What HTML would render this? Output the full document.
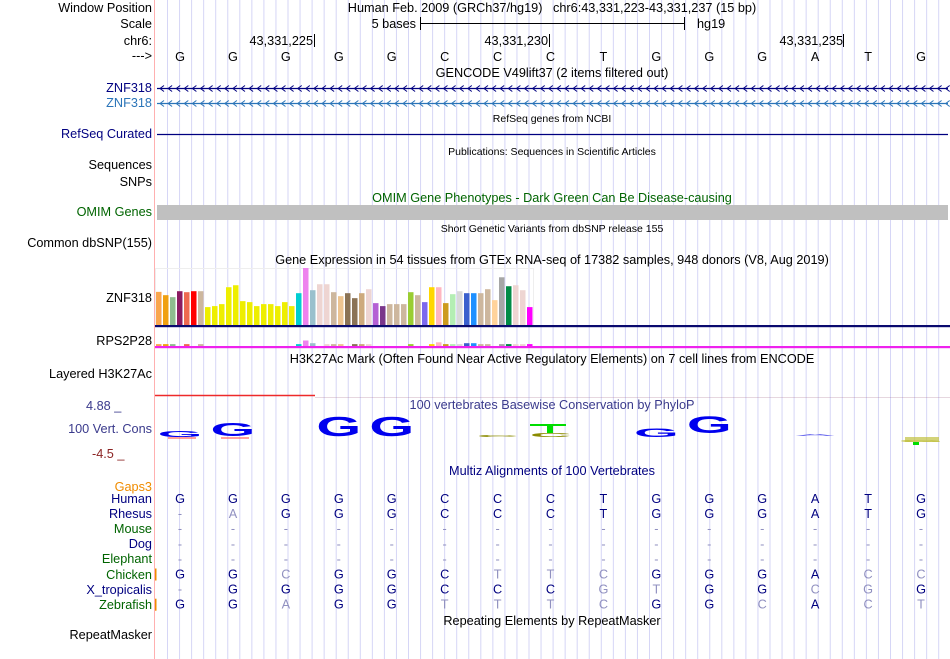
<!DOCTYPE html>
<html><head><meta charset="utf-8">
<style>
body{margin:0;background:#fff;width:950px;height:659px;overflow:hidden;position:relative;font-family:"Liberation Sans",Arial,sans-serif;}
.t{position:absolute;white-space:nowrap;font-size:12.7px;color:#000;line-height:14px}
.l{position:absolute;right:798px;text-align:right;white-space:nowrap;font-size:12.7px;line-height:14px}
.c{position:absolute;white-space:nowrap;font-size:12.7px;line-height:14px;transform:translateX(-50%)}
</style></head><body>
<svg id="grid" width="950" height="659" style="position:absolute;left:0;top:0"></svg>

<div class="l" style="top:1px">Window Position</div>
<div class="c" style="left:552px;top:1px">Human Feb. 2009 (GRCh37/hg19)&nbsp;&nbsp; chr6:43,331,223-43,331,237 (15 bp)</div>
<div class="l" style="top:17px">Scale</div>
<div class="t" style="right:534px;top:17px">5 bases</div>
<div class="t" style="left:697px;top:17px">hg19</div>
<div class="l" style="top:34px">chr6:</div>
<div class="t" style="right:637px;top:34px">43,331,225</div>
<div class="t" style="right:402px;top:34px">43,331,230</div>
<div class="t" style="right:107px;top:34px">43,331,235</div>
<div class="l" style="top:49px">---&gt;</div>
<div class="c" style="left:552px;top:66px">GENCODE V49lift37 (2 items filtered out)</div>
<div class="l" style="top:81px;color:#000080">ZNF318</div>
<div class="l" style="top:96px;color:#2a74b8">ZNF318</div>
<div class="c" style="left:552px;top:112px;font-size:10.5px">RefSeq genes from NCBI</div>
<div class="l" style="top:127px;color:#000080">RefSeq Curated</div>
<div class="c" style="left:552px;top:145px;font-size:10.5px">Publications: Sequences in Scientific Articles</div>
<div class="l" style="top:158px">Sequences</div>
<div class="l" style="top:175px">SNPs</div>
<div class="c" style="left:552px;top:191px;color:#006400">OMIM Gene Phenotypes - Dark Green Can Be Disease-causing</div>
<div class="l" style="top:205px;color:#006400">OMIM Genes</div>
<div class="c" style="left:552px;top:222px;font-size:10.5px">Short Genetic Variants from dbSNP release 155</div>
<div class="l" style="top:236px">Common dbSNP(155)</div>
<div class="c" style="left:552px;top:253px">Gene Expression in 54 tissues from GTEx RNA-seq of 17382 samples, 948 donors (V8, Aug 2019)</div>
<div class="l" style="top:291px">ZNF318</div>
<div class="l" style="top:334px">RPS2P28</div>
<div class="c" style="left:552px;top:352px">H3K27Ac Mark (Often Found Near Active Regulatory Elements) on 7 cell lines from ENCODE</div>
<div class="l" style="top:367px">Layered H3K27Ac</div>
<div class="t" style="left:86px;top:399px;color:#3a3a8c">4.88 _</div>
<div class="c" style="left:552px;top:398px;color:#3a3a8c">100 vertebrates Basewise Conservation by PhyloP</div>
<div class="l" style="top:422px;color:#3a3a8c">100 Vert. Cons</div>
<div class="t" style="left:92px;top:447px;color:#8b2323">-4.5 _</div>
<div class="c" style="left:552px;top:464px;color:#000080">Multiz Alignments of 100 Vertebrates</div>
<div class="l" style="top:480px;color:#f08c00">Gaps3</div>
<div id="species"></div>
<div class="c" style="left:552px;top:614px">Repeating Elements by RepeatMasker</div>
<div class="l" style="top:628px">RepeatMasker</div>

<svg id="main" width="950" height="659" style="position:absolute;left:0;top:0" font-family="Liberation Sans, Arial, sans-serif"></svg>

<script>
const bases=["G","G","G","G","G","C","C","C","T","G","G","G","A","T","G"];
const gtexValues=[100,90,84,102,99,102,102,54,57,63,114,120,72,69,57,63,63,57,69,57,96,172,105,123,123,99,87,96,81,96,108,66,57,63,63,63,99,90,69,114,114,66,93,102,96,96,96,108,75,144,117,120,105,54];
const gtexColors=["#f9a54d","#f0a010","#8fbc8f","#8b1c62","#ee6a50","#ff0000","#cdb79e","#eeee00","#eeee00","#eeee00","#eeee00","#eeee00","#eeee00","#eeee00","#eeee00","#eeee00","#eeee00","#eeee00","#eeee00","#eeee00","#00ced1","#ee82ee","#9ac0cd","#eed5d2","#eed5d2","#cdb79e","#eec591","#8b7355","#8b7355","#cdaa7d","#eed5d2","#b460d4","#7a378b","#cdb79e","#cdb79e","#cdb79e","#9acd32","#cdb79e","#7b68ee","#ffd700","#ffb6c1","#cd9b1d","#b4eeb4","#d9d9d9","#3a5fcd","#1e90ff","#cdb79e","#cdb79e","#ffd39b","#a6a6a6","#008b45","#eed5d2","#eed5d2","#ff00ff"];
const rpsValues=[1,1,1,0,1,0,1,0,0,0,0,0,0,0,0,0,0,0,0,0,1,5,2,0,1,1,1,0,1,1,1,0,0,0,0,0,1,0,0,1,3,1,1,1,2,2,1,1,0,1,1,1,1,1];
const species=["Human","Rhesus","Mouse","Dog","Elephant","Chicken","X_tropicalis","Zebrafish"];
const speciesColors=["#000080","#000080","#006400","#000080","#006400","#006400","#000080","#006400"];
const alignments=["GGGGGCCCTGGGATG","-AGGGCCCTGGGATG","---------------","---------------","---------------","GGCGGCTTCGGGACC","-GGGGCCCGTGGCGG","GGAGGTTTCGGCACT"];
const lightMask=["000000000000000","010000000000000","000000000000000","000000000000000","000000000000000","001000111000011","000000001100110","001001111001011"];
const consHeights=[0.28,0.65,0,1,1,0,0.1,0.2,0,0.42,0.85,0,0.08,0,0.1];
const consBottoms=[437,436,0,436,436,0,437,437,0,437,433,0,436,0,442];
const consColors=["#0000ee","#0000ee","#0000ee","#0000ee","#0000ee","#0000ee","#8b8b00","#8b8b00","#0000ee","#0000ee","#0000ee","#0000ee","#7070ee","#0000ee","#c0c040"];

const NS="http://www.w3.org/2000/svg";
const bx=i=>180+i*52.93;
function mk(p,tag,a){const e=document.createElementNS(NS,tag);for(const k in a)e.setAttribute(k,a[k]);p.appendChild(e);return e;}
const g=document.getElementById('grid'), m=document.getElementById('main');
for(let x=167.5;x<950;x+=12.05){const e=mk(g,'line',{x1:x,x2:x,y1:0,y2:659,stroke:'#d6d6f6','stroke-width':1});

}
const pl=mk(g,'line',{x1:154.5,x2:154.5,y1:0,y2:659,stroke:'#ffb0b0','stroke-width':1});



mk(m,'line',{x1:420.5,x2:420.5,y1:17,y2:30,stroke:'#000'});mk(m,'line',{x1:684.5,x2:684.5,y1:17,y2:30,stroke:'#000'});
mk(m,'line',{x1:420,x2:685,y1:23.5,y2:23.5,stroke:'#000'});
[314.5,549.5,843.5].forEach(x=>mk(m,'line',{x1:x,x2:x,y1:34,y2:47,stroke:'#000'}));
bases.forEach((b,i)=>{const t=mk(m,'text',{x:bx(i),y:61,'text-anchor':'middle','font-size':12.7});t.textContent=b;

});

function gene(y,col,name){const gr=mk(m,'g',{});
mk(gr,'line',{x1:157,x2:948,y1:y,y2:y,stroke:col,'stroke-width':1.3});
for(let x=160;x<946;x+=8.1)mk(gr,'polyline',{points:`${x+4},${y-3} ${x},${y} ${x+4},${y+3}`,fill:'none',stroke:col,'stroke-width':1});}
gene(88.5,'#000080','znf318-gene-1');gene(103.5,'#2a74b8','znf318-gene-2');
const rs=mk(m,'line',{x1:157,x2:948,y1:134.5,y2:134.5,stroke:'#000080','stroke-width':1.2});


const om=mk(m,'rect',{x:157,y:205,width:791,height:15,fill:'#c0c0c0'});



mk(m,'rect',{x:155.5,y:268.5,width:378,height:57,fill:'none',stroke:'#eee'});
const maxV=172,base=325,hpx=57;
gtexValues.forEach((v,i)=>{const h=v/maxV*hpx;const r=mk(m,'rect',{x:156+i*7,y:base-h,width:5.5,height:h,fill:gtexColors[i]});

});
mk(m,'rect',{x:155,y:325,width:795,height:2.2,fill:'#0a0a6e'});
rpsValues.forEach((v,i)=>{if(!v)return;const h=v*0.9+1;const r=mk(m,'rect',{x:156+i*7,y:346-h,width:5.5,height:h,fill:gtexColors[i]});

});
mk(m,'rect',{x:155,y:346,width:795,height:2.2,fill:'#ee22ee'});

mk(m,'line',{x1:155,x2:315,y1:395.5,y2:395.5,stroke:'#ee2a2a','stroke-width':1.5});
mk(m,'line',{x1:315,x2:950,y1:397.5,y2:397.5,stroke:'#9a6080','stroke-width':0.6,opacity:0.5});

bases.forEach((b,i)=>{const h=consHeights[i];if(!h)return;const sy=h*1.75;
const t=mk(m,'text',{x:0,y:0,'text-anchor':'middle','font-size':16,'font-weight':'bold',fill:consColors[i],transform:`translate(${bx(i)},${consBottoms[i]}) scale(3.6,${sy})`});
t.textContent=b;

});
mk(m,'rect',{x:905,y:437,width:34,height:5,fill:'#c0c040',opacity:0.7});
mk(m,'rect',{x:913,y:442,width:6,height:3,fill:'#00dd00'});
mk(m,'rect',{x:530,y:424,width:36,height:2,fill:'#00dd00'});
mk(m,'rect',{x:547,y:426,width:6,height:7,fill:'#00dd00'});
mk(m,'rect',{x:168,y:437,width:28,height:2,fill:'#ff6060',opacity:0.6});
mk(m,'rect',{x:221,y:437,width:28,height:2,fill:'#ff6060',opacity:0.6});

const sp=document.getElementById('species');
species.forEach((s,r)=>{const y=492+r*15.1;
const d=document.createElement('div');d.className='l';d.style.top=(y)+'px';d.style.color=speciesColors[r];d.textContent=s;

sp.appendChild(d);
if(s==='Chicken'||s==='Zebrafish'){mk(m,'rect',{x:155,y:y+1,width:1.5,height:12,fill:'#f08c00'});}
alignments[r].split('').forEach((c,i)=>{const light=lightMask[r][i]==='1'||c==='-';
const t=mk(m,'text',{x:bx(i),y:y+11,'text-anchor':'middle','font-size':12.7,fill:light?'#9090c0':'#000080'});
t.textContent=c;

});});
</script>
</body></html>
